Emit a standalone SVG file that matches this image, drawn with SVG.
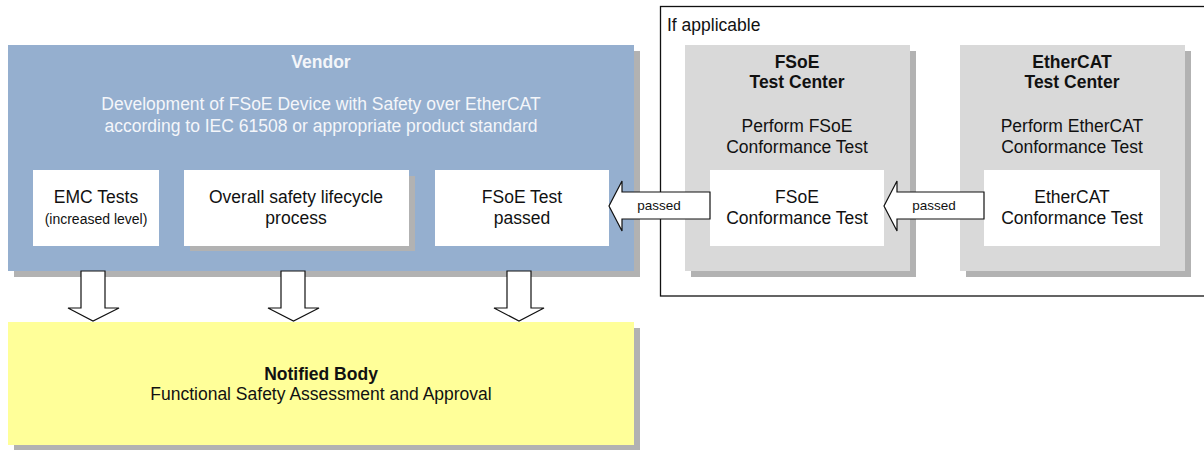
<svg xmlns="http://www.w3.org/2000/svg" width="1204" height="450" viewBox="0 0 1204 450">
<style>
text{font-family:"Liberation Sans",Arial,sans-serif;font-size:17.5px;fill:#111;text-anchor:middle}
.b{font-weight:bold}
.w{fill:#F4F6FA}
.sm{font-size:14px}
.lbl{font-size:13.5px}
.sh{fill:#B2B2B2}
.blue{fill:#95AFCF}
.gray{fill:#D9D9D9}
.white{fill:#FFFFFF}
.arrow{fill:#FFFFFF;stroke:#111;stroke-width:1.2;stroke-linejoin:miter}
</style>
<rect width="1204" height="450" fill="#FFFFFF"/>
<g id="frame">
<rect x="660.5" y="6.5" width="560" height="289.5" fill="none" stroke="#111" stroke-width="1.3"/>
<text x="667" y="31" style="text-anchor:start">If applicable</text>
</g>
<g id="vendor">
<rect class="sh" x="14" y="51" width="626" height="226"/>
<rect class="blue" x="8" y="45" width="626" height="226"/>
<text class="b w" x="321" y="68">Vendor</text>
<text class="w" x="321" y="110">Development of FSoE Device with Safety over EtherCAT</text>
<text class="w" x="321" y="132">according to IEC 61508 or appropriate product standard</text>
</g>
<g id="emc">
<rect class="white" x="33" y="170" width="126" height="76"/>
<text x="96" y="203">EMC Tests</text>
<text class="sm" x="96" y="224">(increased level)</text>
</g>
<g id="lifecycle">
<rect class="sh" x="190" y="176" width="225" height="75"/>
<rect class="white" x="184" y="170" width="225" height="76"/>
<text x="296" y="203">Overall safety lifecycle</text>
<text x="296" y="224">process</text>
</g>
<g id="fsoe-passed">
<rect class="white" x="435" y="170" width="174" height="76"/>
<text x="522" y="203">FSoE Test</text>
<text x="522" y="224">passed</text>
</g>
<g id="notified-body">
<rect class="sh" x="14" y="328" width="626" height="123"/>
<rect x="8" y="322" width="626" height="123" fill="#FFFF99"/>
<text class="b" x="321" y="380">Notified Body</text>
<text x="321" y="400">Functional Safety Assessment and Approval</text>
</g>
<g id="fsoe-center">
<rect class="sh" x="691" y="51" width="225" height="226"/>
<rect class="gray" x="685" y="45" width="225" height="226"/>
<text class="b" x="797" y="68">FSoE</text>
<text class="b" x="797" y="88">Test Center</text>
<text x="797" y="132">Perform FSoE</text>
<text x="797" y="153">Conformance Test</text>
</g>
<g id="fsoe-conformance">
<rect class="white" x="710" y="170" width="174" height="76"/>
<text x="797" y="203">FSoE</text>
<text x="797" y="224">Conformance Test</text>
</g>
<g id="ethercat-center">
<rect class="sh" x="966" y="51" width="225" height="226"/>
<rect class="gray" x="960" y="45" width="225" height="226"/>
<text class="b" x="1072" y="68">EtherCAT</text>
<text class="b" x="1072" y="88">Test Center</text>
<text x="1072" y="132">Perform EtherCAT</text>
<text x="1072" y="153">Conformance Test</text>
</g>
<g id="ethercat-conformance">
<rect class="white" x="984" y="170" width="176" height="76"/>
<text x="1072" y="203">EtherCAT</text>
<text x="1072" y="224">Conformance Test</text>
</g>
<g id="connectors">
<polygon class="arrow" points="81,271 105,271 105,308 119,308 93,321 68,308 81,308"/>
<polygon class="arrow" points="281,271 305,271 305,308 319,308 293.5,321 268,308 281,308"/>
<polygon class="arrow" points="507,271 531,271 531,308 544,308 519,321 494,308 507,308"/>
<polygon class="arrow" points="710,192 710,219 622,219 622,231 609,206 622,181 622,192"/>
<text class="lbl" x="659" y="210">passed</text>
<polygon class="arrow" points="984,192 984,219 897,219 897,231 884,206 897,181 897,192"/>
<text class="lbl" x="934" y="210">passed</text>
</g>
</svg>
